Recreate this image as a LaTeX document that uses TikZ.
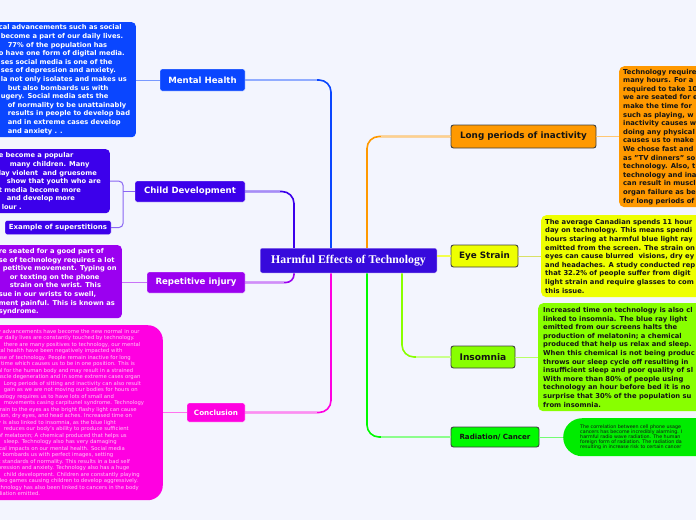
\documentclass[tikz,border=0pt]{standalone}
\usepackage{fontspec}
\setmainfont{DejaVu Sans}
\newfontfamily\titlefont{Liberation Serif}
\definecolor{bg}{RGB}{243,245,254}
\definecolor{mhblue}{RGB}{10,70,255}
\definecolor{cdblue}{RGB}{60,0,235}
\definecolor{rootblue}{RGB}{55,10,220}
\definecolor{ripurple}{RGB}{155,0,240}
\definecolor{ccmagenta}{RGB}{255,0,225}
\definecolor{lporange}{RGB}{255,153,0}
\definecolor{esyellow}{RGB}{238,255,0}
\definecolor{inlime}{RGB}{136,255,0}
\definecolor{rcgreen}{RGB}{0,250,0}
\definecolor{rcpill}{RGB}{0,236,0}
\definecolor{ink}{RGB}{20,20,20}
\definecolor{pinktext}{RGB}{255,200,245}
\newcommand\skipin[1]{\makebox[#1pt]{}}
\tikzset{root/.style={rectangle, rounded corners=2pt, fill=rootblue, draw=white, line width=0.5pt,
    text=white, inner sep=0pt, font=\titlefont\fontsize{11.8}{13}\selectfont\bfseries}}
\tikzset{topicL/.style={rectangle, rounded corners=2pt, draw=white, line width=0.4pt, text=white,
    inner sep=0pt, font=\fontsize{8.6}{10}\selectfont\bfseries}}
\tikzset{topicR/.style={rectangle, rounded corners=2.5pt, draw=black!75, line width=0.9pt, text=ink,
    inner sep=0pt, font=\fontsize{8.8}{10}\selectfont\bfseries}}
\tikzset{notebox/.style={rectangle, rounded corners=4pt, inner sep=0pt}}
\tikzset{bodyL/.style={text=white, align=left, anchor=west, inner sep=0pt,
    font=\fontsize{6.7}{8.6}\selectfont\bfseries}}
\tikzset{bodyR/.style={text=ink, align=left, anchor=west, inner sep=0pt,
    font=\fontsize{6.8}{8.6}\selectfont\bfseries}}
\tikzset{conn/.style={line width=1.6pt, rounded corners=12pt}}
\tikzset{link/.style={line width=1pt}}

\begin{document}
\begin{tikzpicture}[x=1pt,y=-1pt]
    \fill[bg] (0,0) rectangle (696,520);
    \useasboundingbox (0,0) rectangle (696,520);

    \node[root, minimum width=177pt, minimum height=25pt] (root) at (348.5,260.5) {Harmful Effects of Technology};

    \node[topicL, fill=mhblue, minimum width=85pt, minimum height=22pt] (mh) at (202.5,80) {Mental Health};
    \node[topicL, fill=cdblue, minimum width=110pt, minimum height=21pt] (cd) at (190,191.5) {Child Development};
    \node[topicL, fill=ripurple, minimum width=98pt, minimum height=21pt] (ri) at (196,282.5) {Repetitive injury};
    \node[topicL, fill=ccmagenta, minimum width=58pt, minimum height=19pt, font=\fontsize{7.2}{9}\selectfont\bfseries] (cc) at (216,412.5) {Conclusion};

    \node[topicR, fill=lporange, minimum width=145pt, minimum height=23pt] (lp) at (523.5,136.5) {Long periods of inactivity};
    \node[topicR, fill=esyellow, minimum width=67pt, minimum height=22pt] (es) at (484.5,256) {Eye Strain};
    \node[topicR, fill=inlime, minimum width=64pt, minimum height=22pt, font=\fontsize{9.1}{10}\selectfont\bfseries] (in) at (483,357) {Insomnia};
    \node[topicR, fill=rcgreen, minimum width=88pt, minimum height=20pt, font=\fontsize{7.1}{9}\selectfont\bfseries] (rc) at (495,437) {Radiation/ Cancer};

    \node[notebox, fill=mhblue, anchor=north east, minimum width=150pt, minimum height=115pt] (mht) at (136,22) {};
    \node[bodyL] (mhtext) at ([xshift=13pt]mht.west) {%
      cal advancements such as social\\
      \skipin{2}become a part of our daily lives.\\
      \skipin{9}77\% of the population has\\
      o have one form of digital media.\\
      \skipin{2}ses social media is one of the\\
      \skipin{2}ses of depression and anxiety.\\
      \skipin{2}la not only isolates and makes us\\
      \skipin{9}but also bombards us with\\
      \skipin{2}ugery. Social media sets the\\
      \skipin{9}of normality to be unattainably\\
      \skipin{9}results in people to develop bad\\
      \skipin{9}and in extreme cases develop\\
      \skipin{9}and anxiety . .};

    \node[notebox, fill=cdblue, anchor=north east, minimum width=125pt, minimum height=64pt] (cdt) at (110,149) {};
    \node[bodyL] (cdtext) at ([xshift=14pt]cdt.west) {%
      e become a popular\\
      \skipin{11}many children. Many\\
      lay violent\ \ and gruesome\\
      \skipin{8}show that youth who are\\
      t media become more\\
      \skipin{8}and develop more\\
      \skipin{3}lour .};

    \node[topicL, fill=cdblue, minimum width=106pt, minimum height=14pt, font=\fontsize{7}{8}\selectfont\bfseries] (ex) at (58,227.5) {Example of superstitions};

    \node[notebox, fill=ripurple, anchor=north east, minimum width=136pt, minimum height=73pt] (rit) at (122,245) {};
    \node[bodyL] (ritext) at ([xshift=13pt]rit.west) {%
      re seated for a good part of\\
      se of technology requires a lot\\
      \skipin{4}petitive movement. Typing on\\
      \skipin{11}or texting on the phone\\
      \skipin{11}strain on the wrist. This\\
      sue in our wrists to swell,\\
      ment painful. This is known as\\
      syndrome.};

    \node[notebox, fill=ccmagenta, rounded corners=15pt, anchor=north east, minimum width=182pt, minimum height=175pt] (cct) at (163,325) {};
    \node[bodyL, text=pinktext, font=\fontsize{5.3}{6.5}\selectfont] (cctext) at ([xshift=17pt]cct.west) {%
      y advancements have become the new normal in our\\
      ur daily lives are constantly touched by technology.\\
      \skipin{6}there are many positives to technology, our mental\\
      cal health have been negatively impacted with\\
      use of technology. People remain inactive for long\\
      ' time which causes us to be in one position. This is\\
      al for the human body and may result in a strained\\
      uscle degeneration and in some extreme cases organ\\
      \skipin{6}Long periods of sitting and inactivity can also result\\
      \skipin{6}gain as we are not moving our bodies for hours on\\
      nology requires us to have lots of small and\\
      \skipin{6}movements casing carpitunel syndrome. Technology\\
      train to the eyes as the bright flashy light can cause\\
      sion, dry eyes, and head aches. Increased time on\\
      y is also linked to insomnia, as the blue light\\
      \skipin{6}reduces our body's ability to produce sufficient\\
      of melatonin; A chemical produced that helps us\\
      \skipin{6}sleep. Technology also has very damaging\\
      ical impacts on our mental health. Social media\\
      y bombards us with perfect images, setting\\
      c standards of normality. This results in a bad self\\
      pression and anxiety. Technology also has a huge\\
      \skipin{6}child development. Children are constantly playing\\
      deo games causing children to develop aggressively.\\
      chnology has also been linked to cancers in the body\\
      diation emitted.};

    \node[notebox, fill=lporange, rounded corners=5pt, anchor=north west, minimum width=100pt, minimum height=141pt] (lpt) at (619,66) {};
    \node[bodyR] (lptext) at ([xshift=4pt]lpt.west) {%
      Technology require\\
      many hours. For a\\
      required to take 10\\
      we are seated for e\\
      make the time for\\
      such as playing, w\\
      inactivity causes w\\
      doing any physical\\
      causes us to make\\
      We chose fast and\\
      as "TV dinners" so\\
      technology. Also, t\\
      technology and ina\\
      can result in muscl\\
      organ failure as be\\
      for long periods of};

    \node[notebox, fill=esyellow, rounded corners=5pt, anchor=north west, minimum width=180pt, minimum height=82pt] (est) at (541,215) {};
    \node[bodyR] (estext) at ([xshift=4pt]est.west) {%
      The average Canadian spends 11 hour\\
      day on technology. This means spendi\\
      hours staring at harmful blue light ray\\
      emitted from the screen. The strain on\\
      eyes can cause blurred\ \ visions, dry ey\\
      and headaches. A study conducted rep\\
      that 32.2\% of people suffer from digit\\
      light strain and require glasses to com\\
      this issue.};

    \node[notebox, fill=inlime, rounded corners=5pt, anchor=north west, minimum width=180pt, minimum height=108pt] (int) at (538,303) {};
    \node[bodyR] (intext) at ([xshift=5pt]int.west) {%
      Increased time on technology is also cl\\
      linked to insomnia. The blue ray light\\
      emitted from our screens halts the\\
      production of melatonin; a chemical\\
      produced that help us relax and sleep.\\
      When this chemical is not being produc\\
      throws our sleep cycle off resulting in\\
      insufficient sleep and poor quality of sl\\
      With more than 80\% of people using\\
      technology an hour before bed it is no\\
      surprise that 30\% of the population su\\
      from insomnia.};

    \node[notebox, fill=rcpill, rounded corners=19pt, anchor=north west, minimum width=180pt, minimum height=38pt] (rct) at (563,418) {};
    \node[bodyR, font=\fontsize{4.8}{5}\selectfont] (rctext) at ([xshift=17pt]rct.west) {%
      The correlation between cell phone usage\\
      cancers has become incredibly alarming. I\\
      harmful radio wave radiation. The human\\
      foreign form of radiation. The radiation da\\
      resulting in increase risk to certain cancer};

    \coordinate (mhx) at (331,0);
    \coordinate (cdx) at (294,0);
    \coordinate (lpx) at (367,0);
    \coordinate (inx) at (402,0);
    \coordinate (cdj) at (123,191.5);

    \draw[conn, mhblue] (root.north -| mhx) |- (mh.east);
    \draw[conn, mhblue!45] (mh.east) -- ([xshift=-14pt]mh.east -| mhx);
    \draw[conn, cdblue] (root.north -| cdx) |- (cd.east);
    \draw[conn, cdblue!45] (cd.east) -- ([xshift=-14pt]cd.east -| cdx);
    \draw[conn, ripurple, rounded corners=8pt] (root.south -| cdx) |- (ri.east);
    \draw[conn, ripurple!45] (ri.east) -- ([xshift=-10pt]ri.east -| cdx);
    \draw[conn, ccmagenta] (root.south -| mhx) |- (cc.east);
    \draw[conn, ccmagenta!45] (cc.east) -- ([xshift=-14pt]cc.east -| mhx);
    \draw[conn, lporange] (root.north -| lpx) |- (lp.west);
    \draw[conn, lporange!45] (lp.west) -- ([xshift=14pt]lp.west -| lpx);
    \draw[conn, esyellow!70] (root.east |- es.west) -- (es.west);
    \draw[conn, inlime] (root.south -| inx) |- (in.west);
    \draw[conn, inlime!45] (in.west) -- ([xshift=14pt]in.west -| inx);
    \draw[conn, rcgreen] (root.south -| lpx) |- (rc.west);
    \draw[conn, rcgreen!45] (rc.west) -- ([xshift=14pt]rc.west -| lpx);

    \draw[link, mhblue!55] (mh.west) -- (mh.west -| mht.east);
    \draw[link, cdblue!60, rounded corners=4pt] (cdt.east) -| (cdj) |- (ex.east);
    \draw[link, cdblue!60] (cd.west) -- (cdj);
    \draw[link, ripurple!55] (ri.west) -- (ri.west -| rit.east);
    \draw[link, ccmagenta!55] (cc.west) -- (cc.west -| cct.east);
    \draw[link, lporange!55] (lp.east) -- (lp.east -| lpt.west);
    \draw[link, esyellow!80!black!60] (es.east) -- (es.east -| est.west);
    \draw[link, inlime!60] (in.east) -- (in.east -| int.west);
    \draw[link, rcgreen!55] (rc.east) -- (rc.east -| rct.west);
\end{tikzpicture}
\end{document}
